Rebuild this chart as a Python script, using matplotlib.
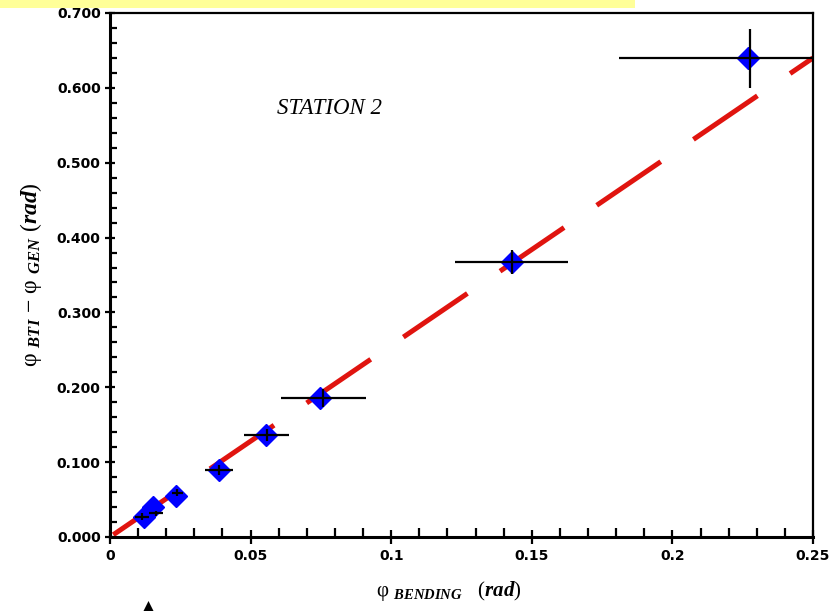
import matplotlib.pyplot as plt
from matplotlib.patches import Rectangle, Polygon
from matplotlib.ticker import MultipleLocator, FormatStrFormatter

plt.rcParams['mathtext.fontset'] = 'custom'
plt.rcParams['mathtext.rm'] = 'Liberation Serif'
plt.rcParams['mathtext.it'] = 'Liberation Serif:italic:bold'

# diamond markers
phi_bend = [0.0121, 0.0153, 0.0235, 0.0388, 0.0555, 0.0747, 0.1430, 0.2269]
phi_diff = [0.0267, 0.0401, 0.0548, 0.0895, 0.1363, 0.1857, 0.3674, 0.6399]

# error bars (centres and half-widths)
err_x = [0.0113, 0.0163, 0.0239, 0.0388, 0.0557, 0.0759, 0.1428, 0.2276]
err_y = [0.0271, 0.0317, 0.0592, 0.0895, 0.1363, 0.1853, 0.3678, 0.6394]
xerr = [0.0025, 0.0025, 0.0020, 0.0050, 0.0081, 0.0150, 0.0200, 0.0466]
yerr = [0.0050, 0.0030, 0.0050, 0.0070, 0.0080, 0.0120, 0.0160, 0.0394]

# fitted line
fit_x = [0.0, 0.25]
fit_slope = 2.56

fig = plt.figure(figsize=(8.3, 6.11), dpi=100)
ax = fig.add_axes([110/830, 1 - 537/611, 703/830, 524/611])

fit_y = [fit_slope * x for x in fit_x]
ax.plot(fit_x, fit_y, color='#e0140f', lw=3.6, linestyle=(22.6, (15.5, 7.9)),
        dash_capstyle='butt', zorder=2)
ax.plot(phi_bend, phi_diff, 'D', color='#0000ff', ms=11.5, mec='#0000ff', zorder=3)
ax.errorbar(err_x, err_y, xerr=xerr, yerr=yerr, fmt='none', ecolor='black',
            elinewidth=1.6, capsize=0, zorder=4)

ax.set_xlim(0, 0.25)
ax.set_ylim(0, 0.7)

ax.xaxis.set_major_locator(MultipleLocator(0.05))
ax.xaxis.set_minor_locator(MultipleLocator(0.01))
ax.yaxis.set_major_locator(MultipleLocator(0.1))
ax.yaxis.set_minor_locator(MultipleLocator(0.02))
ax.yaxis.set_major_formatter(FormatStrFormatter('%.3f'))
ax.set_xticks([0, 0.05, 0.1, 0.15, 0.2, 0.25])
ax.set_xticklabels(['0', '0.05', '0.1', '0.15', '0.2', '0.25'])

ax.tick_params(axis='y', which='major', direction='inout', length=7.5, width=1.6,
               labelsize=10, pad=3)
ax.tick_params(axis='x', which='major', direction='inout', length=10, width=1.6,
               labelsize=10, pad=4)
ax.tick_params(axis='y', which='minor', direction='in', length=5, width=1.6)
ax.tick_params(axis='x', which='minor', direction='in', length=6.5, width=1.6)
for lab in ax.get_xticklabels() + ax.get_yticklabels():
    lab.set_fontweight('bold')

for s in ['left', 'bottom']:
    ax.spines[s].set_linewidth(2.2)
for s in ['top', 'right']:
    ax.spines[s].set_linewidth(1.6)

ax.set_xlabel(r'$\mathrm{φ}\ _{BENDING}\ \ \ \mathit{(rad)}$', fontsize=15)
ax.xaxis.set_label_coords(0.482, -0.080)
ax.set_ylabel(r'$\mathrm{φ}\ _{BTI}\ \mathrm{-}\ \mathrm{φ}\ _{GEN}\ \mathit{(rad)}$', fontsize=17)
ax.yaxis.set_label_coords(-0.094, 0.5)

ax.text(0.0782, 0.573, 'STATION 2', fontsize=16.5, style='italic',
        family='Liberation Serif', ha='center', va='center')

# yellow band at top and arrow head at bottom
fig.patches.append(Rectangle((0, 1 - 8/611), 635/830, 8/611, transform=fig.transFigure,
                             facecolor='#ffff99', edgecolor='none'))
fig.patches.append(Polygon([(148.5/830, 1 - 601/611), (143.5/830, 0), (153.5/830, 0)],
                           closed=True, transform=fig.transFigure,
                           facecolor='black', edgecolor='none'))

fig.savefig('out.png', dpi=100)
